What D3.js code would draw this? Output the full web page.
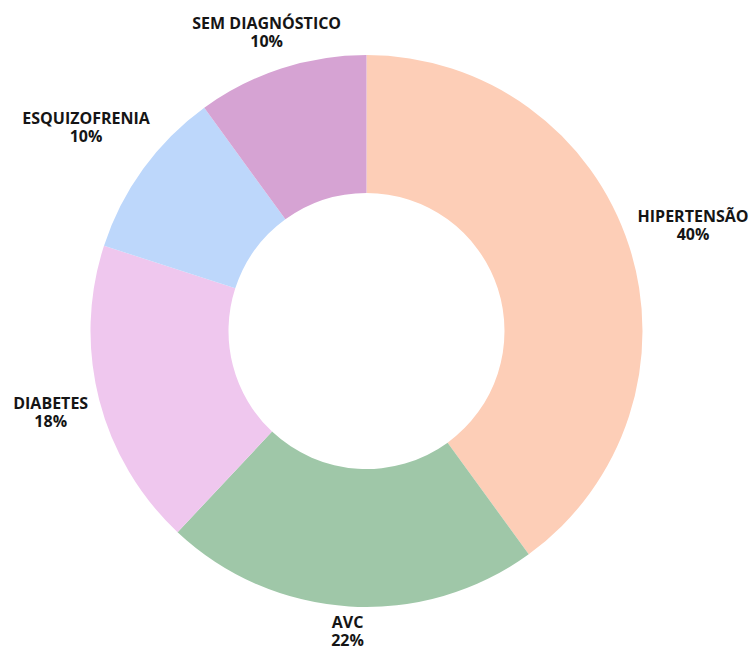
<!DOCTYPE html>
<html>
<head>
<meta charset="utf-8">
<script src="https://cdn.jsdelivr.net/npm/d3@7"></script>
<style>
  html, body { margin: 0; padding: 0; background: #fff; }
  svg { display: block; }
</style>
</head>
<body>
<div id="chart"></div>
<script>
// data
const categories = ['HIPERTENSÃO', 'AVC', 'DIABETES', 'ESQUIZOFRENIA', 'SEM DIAGNÓSTICO'];
const shares = [40, 22, 18, 10, 10];
const colors = ['#fdceb7', '#9fc7a8', '#efc7ee', '#bdd7fb', '#d6a3d3'];

const width = 754;
const height = 650;
const cx = 366.5, cy = 331;
const outerR = 276, innerR = 138;

const svg = d3.select('#chart')
  .append('svg')
    .attr('width', width)
    .attr('height', height);

const myData = categories.map((c, i) => ({name: c, value: shares[i], color: colors[i]}));

const pie = d3.pie()
  .sort(null)
  .value(d => d.value);

const arc = d3.arc()
  .innerRadius(innerR)
  .outerRadius(outerR);

const arcs = pie(myData);

const g = svg.append('g')
  .attr('transform', `translate(${cx},${cy})`);

g.selectAll('path')
  .data(arcs)
  .join('path')
    .attr('d', arc)
    .attr('fill', d => d.data.color);

//--- labels outside the ring ---
const lineGap = 18;
const capH = 11.5;
const labels = g.selectAll('text.lbl')
  .data(arcs)
  .join('text')
    .attr('class', 'lbl')
    .attr('text-anchor', 'middle')
    .style('font-family', '"Open Sans", sans-serif')
    .style('font-weight', 700)
    .style('font-size', '16px')
    .style('fill', '#151515');

labels.append('tspan')
  .attr('x', 0)
  .attr('dy', 0)
  .text(d => d.data.name);

labels.append('tspan')
  .attr('x', 0)
  .attr('dy', lineGap)
  .text(d => d.data.value + '%');

labels.each(function(d) {
  const w = this.getBBox().width, h = capH + lineGap;
  const a = (d.startAngle + d.endAngle) / 2;
  const s = Math.sin(a), c = Math.cos(a);
  // push the box out along the mid angle until its nearest side clears the ring
  const support = Math.abs(s) * w / 2 + Math.abs(c) * h / 2;
  const rl = outerR + 10 + support;
  const x = rl * s;
  let yc = -rl * c;
  // keep the box inside the picture
  yc = Math.max(yc, 17 + h / 2 - cy);
  yc = Math.min(yc, 646 - h / 2 - cy);
  const yBase = yc - h / 2 + capH;
  d3.select(this).attr('transform', `translate(${x},${yBase})`);
});
</script>
</body>
</html>
